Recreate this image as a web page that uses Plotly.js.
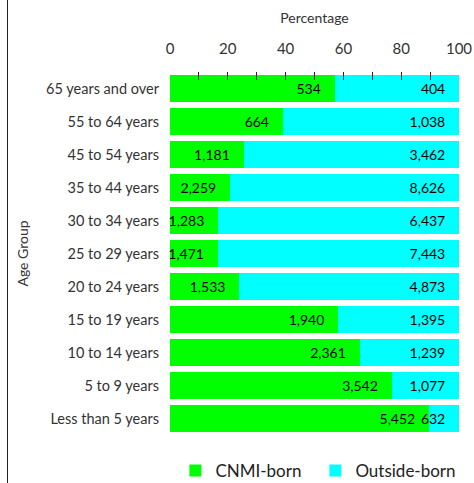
<!DOCTYPE html>
<html>
<head>
<meta charset="utf-8">
<script src="https://cdn.plot.ly/plotly-3.0.1.min.js"></script>
<style>
  body { margin: 0; background: #fff; }
  #frame { position: absolute; left: 7px; top: 0; width: 0; height: 483px; border-left: 1px solid #222; }
  #chart { width: 474px; height: 483px; }
</style>
</head>
<body>
<div id="chart"></div>
<div id="frame"></div>
<script>
// age groups, top to bottom
const ageGroups = [
  "65 years and over", "55 to 64 years", "45 to 54 years", "35 to 44 years",
  "30 to 34 years", "25 to 29 years", "20 to 24 years", "15 to 19 years",
  "10 to 14 years", "5 to 9 years", "Less than 5 years"
];
const cnmiBorn = [534, 664, 1181, 2259, 1283, 1471, 1533, 1940, 2361, 3542, 5452];
const outsideBorn = [404, 1038, 3462, 8626, 6437, 7443, 4873, 1395, 1239, 1077, 632];

const totals = cnmiBorn.map((c, i) => c + outsideBorn[i]);
const cnmiPct = cnmiBorn.map((c, i) => (100 * c) / totals[i]);
const outPct = outsideBorn.map((o, i) => (100 * o) / totals[i]);

const pad = "\u00a0\u00a0\u00a0";
const fmt = (n) => n.toLocaleString("en-US") + pad;

const labelFont = { family: "Lato, sans-serif", size: 14, color: "#000" };

const trace1 = {
  type: "bar",
  orientation: "h",
  name: "CNMI-born",
  y: ageGroups,
  x: cnmiPct,
  text: cnmiBorn.map(fmt),
  textposition: "inside",
  insidetextanchor: "end",
  constraintext: "none",
  cliponaxis: false,
  textangle: 0,
  insidetextfont: labelFont,
  marker: { color: "#00ff00" },
  hoverinfo: "none"
};
const trace2 = {
  type: "bar",
  orientation: "h",
  name: "Outside-born",
  y: ageGroups,
  x: outPct,
  text: outsideBorn.map(fmt),
  textposition: "inside",
  insidetextanchor: "end",
  constraintext: "none",
  cliponaxis: false,
  textangle: 0,
  insidetextfont: labelFont,
  marker: { color: "#00ffff" },
  hoverinfo: "none"
};

const layout = {
  width: 474,
  height: 483,
  margin: { l: 170, r: 15, t: 72, b: 48 },
  barmode: "stack",
  bargap: 0.2,
  font: { family: "Lato, sans-serif", color: "#333" },
  paper_bgcolor: "#fff",
  plot_bgcolor: "#fff",
  showlegend: true,
  legend: {
    orientation: "h",
    xref: "container", yref: "container",
    x: 0.37, xanchor: "left",
    y: 12 / 483, yanchor: "middle",
    entrywidth: 95,
    entrywidthmode: "pixels",
    font: { size: 17, color: "#222" },
    traceorder: "normal"
  },
  xaxis: {
    side: "top",
    range: [0, 100],
    dtick: 20,
    ticks: "inside",
    ticklen: 8,
    tickcolor: "#222",
    minor: { dtick: 10, ticks: "inside", ticklen: 8, tickcolor: "#222" },
    showgrid: false,
    zeroline: false,
    showline: false,
    tickfont: { size: 15, color: "#333" },
    ticklabelstandoff: 14,
    title: { text: "Percentage", font: { size: 14, color: "#333" }, standoff: 12 }
  },
  yaxis: {
    autorange: "reversed",
    showgrid: false,
    zeroline: false,
    ticks: "",
    ticklabelstandoff: 10,
    tickfont: { size: 14.5, color: "#333" },
    title: { text: "Age Group", font: { size: 14, color: "#333" }, standoff: 14 }
  }
};

Plotly.newPlot("chart", [trace1, trace2], layout, { displayModeBar: false, staticPlot: true });
</script>
</body>
</html>
